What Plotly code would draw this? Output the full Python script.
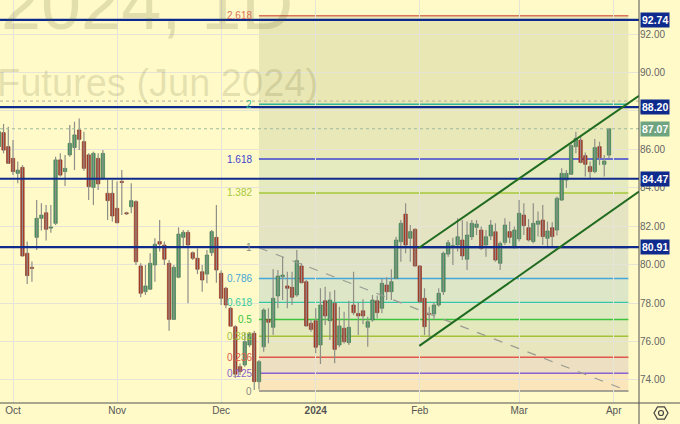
import math
import plotly.graph_objects as go

# ---------------- data ----------------
bar_index = list(range(-3, 127))
opens = [86.14, 86.87, 86.14, 85.53, 84.75, 85.06, 80.59, 79.82, 81.42, 82.41,
         82.70, 81.90, 82.15, 85.45, 84.84, 85.71, 86.09, 87.01, 86.40, 85.71,
         84.02, 85.53, 84.49, 83.71, 83.71, 82.93, 84.32, 82.66, 83.01, 83.28,
         79.93, 78.59, 78.72, 79.98, 81.20, 81.02, 80.07, 77.15, 79.34, 81.42,
         81.68, 80.62, 80.33, 79.63, 79.51, 80.62, 81.42, 79.55, 78.77, 77.73,
         76.77, 74.69, 74.78, 75.82, 76.43, 73.91, 75.73, 77.15, 76.74, 78.37,
         79.37, 78.89, 78.82, 78.42, 79.93, 79.11, 76.95, 77.08, 75.82, 78.12,
         77.08, 77.99, 75.82, 76.69, 75.94, 77.90, 77.46, 77.60, 76.74, 77.12,
         78.12, 77.73, 78.94, 78.59, 79.29, 81.19, 82.63, 81.37, 81.84, 79.93,
         78.25, 77.46, 77.43, 77.90, 78.59, 80.55, 80.93, 81.02, 81.28, 80.28,
         81.45, 81.94, 81.80, 81.02, 81.49, 81.71, 80.07, 81.16, 81.72, 80.88,
         81.34, 82.58, 81.92, 81.20, 82.10, 82.32, 81.37, 81.92, 81.80, 83.36,
         84.40, 84.70, 86.14, 86.48, 85.67, 85.10, 84.84, 86.14, 85.22, 85.70]
highs = [87.10, 87.32, 87.18, 86.49, 85.36, 85.18, 81.20, 80.16, 83.36, 83.19,
         83.10, 83.10, 85.62, 85.79, 85.71, 87.27, 87.44, 87.61, 86.92, 85.79,
         85.88, 85.79, 85.96, 84.44, 84.40, 84.32, 84.92, 82.75, 84.23, 83.35,
         80.07, 79.98, 80.59, 81.37, 82.32, 81.20, 80.24, 79.98, 81.94, 81.80,
         81.80, 80.68, 80.85, 79.98, 80.76, 81.80, 83.10, 79.69, 78.85, 77.81,
         76.85, 74.86, 76.44, 76.50, 76.56, 75.04, 77.73, 77.73, 79.76, 79.72,
         80.41, 79.63, 79.63, 80.76, 80.07, 79.20, 77.12, 77.73, 78.77, 78.85,
         78.59, 78.68, 77.81, 77.55, 78.12, 79.63, 78.02, 78.20, 77.29, 78.42,
         78.40, 79.29, 79.34, 79.76, 81.45, 82.32, 83.19, 82.06, 81.89, 79.98,
         78.77, 77.81, 78.02, 78.77, 80.68, 81.28, 81.40, 82.41, 82.32, 82.24,
         82.32, 82.32, 81.98, 81.80, 82.32, 82.15, 81.20, 82.41, 82.24, 81.98,
         83.36, 83.19, 82.37, 83.19, 82.76, 83.10, 82.24, 82.20, 83.54, 85.01,
         84.92, 86.31, 86.92, 86.66, 85.84, 85.36, 86.54, 86.40, 85.70, 87.09]
lows = [85.90, 85.79, 85.24, 84.66, 84.23, 80.42, 78.99, 79.11, 80.76, 81.77,
        81.25, 81.66, 82.06, 84.58, 84.09, 85.62, 84.92, 85.96, 84.89, 83.36,
        83.10, 83.88, 84.40, 82.32, 82.24, 82.15, 82.58, 82.58, 82.67, 79.98,
        78.30, 78.42, 78.68, 79.11, 80.68, 79.98, 76.56, 77.12, 79.29, 80.94,
        77.99, 80.24, 79.51, 78.59, 79.03, 80.45, 79.06, 77.90, 77.73, 76.77,
        74.10, 74.26, 74.69, 75.70, 73.48, 73.50, 75.47, 75.90, 76.34, 77.73,
        78.16, 77.73, 77.90, 78.33, 79.03, 76.77, 76.51, 75.39, 74.83, 76.86,
        76.08, 74.87, 75.70, 75.90, 75.82, 77.38, 76.34, 76.90, 75.73, 77.03,
        77.20, 77.47, 78.16, 78.16, 79.24, 80.15, 80.59, 80.15, 79.89, 77.99,
        76.34, 76.22, 77.12, 77.81, 78.42, 80.41, 79.98, 80.68, 80.24, 79.72,
        81.28, 81.54, 80.76, 80.41, 81.28, 80.15, 79.72, 81.02, 81.11, 80.85,
        81.20, 81.54, 81.20, 81.11, 81.46, 81.02, 80.85, 80.94, 81.51, 83.31,
        84.00, 84.66, 85.79, 85.27, 84.58, 84.49, 84.75, 85.18, 84.58, 85.53]
closes = [86.92, 85.96, 85.27, 84.84, 84.92, 80.45, 79.43, 79.80, 82.41, 82.58,
          81.84, 81.93, 85.45, 84.66, 85.01, 86.31, 86.75, 86.52, 85.01, 84.06,
          85.79, 84.20, 85.79, 83.33, 82.53, 82.18, 84.27, 82.64, 83.33, 80.15,
          78.51, 78.89, 80.07, 81.06, 81.07, 80.28, 77.15, 79.86, 81.59, 81.68,
          81.02, 80.33, 79.76, 79.20, 80.50, 81.72, 79.72, 78.25, 77.90, 76.80,
          74.30, 74.43, 75.99, 76.39, 73.91, 74.95, 77.64, 77.00, 78.25, 79.41,
          79.46, 78.77, 78.30, 80.21, 79.06, 76.81, 76.63, 75.70, 77.90, 77.33,
          78.16, 75.59, 76.81, 75.99, 76.74, 77.50, 77.33, 77.33, 77.03, 78.16,
          77.50, 79.03, 78.59, 79.11, 81.28, 82.15, 81.02, 81.72, 79.93, 78.07,
          76.77, 77.40, 77.90, 78.51, 80.59, 81.14, 80.98, 81.45, 80.45, 81.54,
          82.15, 82.11, 80.85, 81.45, 82.06, 80.24, 81.11, 82.06, 81.42, 81.80,
          82.67, 82.03, 81.28, 82.15, 82.27, 81.46, 81.75, 81.46, 83.45, 84.75,
          84.75, 86.19, 86.57, 85.32, 85.22, 84.84, 86.09, 85.57, 85.39, 87.07]

month_ticks = [0, 22, 44, 64, 86, 107, 127]
month_labels = ["Oct", "Nov", "Dec", "<b>2024</b>", "Feb", "Mar", "Apr"]
price_ticks = [74, 76, 78, 80, 82, 84, 86, 88, 90, 92]

key_levels = [92.74, 88.20, 84.47, 80.91]
last_price = 87.07
dotted_level = 88.51

fib_low = 73.42
fib_high = 80.88
fib_x0 = 52.0
fib_x1 = 130.1
fib_ratios = [0, 0.125, 0.236, 0.382, 0.5, 0.618, 0.786, 1, 1.382, 1.618, 2, 2.618]
fib_names = ["0", "0.125", "0.236", "0.382", "0.5", "0.618", "0.786", "1", "1.382", "1.618", "2", "2.618"]
fib_colors = ["#8a8a84", "#8a62d2", "#e0574b", "#a2c23a", "#3cc43c", "#35c9a0",
              "#45a6d8", "#8a8a84", "#a6c83a", "#3d45d0", "#2fb59c", "#d9735a"]
fib_band_colors = ["#fbe6bb", "#ecdfc2", "#e8e6bd", "#e3e9bc", "#dee9c2", "#dde6c7",
                   "#e1e3c6", "#e4e4c2", "#e6eabf", "#e8e8b8", "#e9e7b3"]

trend_x = [52.0, 130.1]
trend_y = [80.88, 73.42]
channel_upper_x = [85.7, 132.35]
channel_upper_y = [80.85, 88.79]
channel_lower_x = [85.9, 132.35]
channel_lower_y = [75.77, 83.80]

# ---------------- figure ----------------
BG = "#fffac8"
X_RANGE = [-2.75, 132.35]
Y_RANGE = [72.80, 93.77]
PLOT_W, PLOT_H = 639, 403

fig = go.Figure()

# wicks
wx, wy = [], []
for i, h, l in zip(bar_index, highs, lows):
    wx += [i, i, None]
    wy += [l, h, None]
fig.add_trace(go.Scatter(x=wx, y=wy, mode="lines",
                         line=dict(color="#8f8f88", width=1.2),
                         hoverinfo="skip", showlegend=False))

# bodies
base, height, fill, edge = [], [], [], []
for o, c in zip(opens, closes):
    lo = min(o, c)
    hgt = max(abs(c - o), 0.06)
    base.append(lo)
    height.append(hgt)
    up = c >= o
    fill.append("#4f9a66" if up else "#b13f2e")
    edge.append("#2e6b43" if up else "#7a2618")
fig.add_trace(go.Bar(x=bar_index, y=height, base=base, width=0.72,
                     marker=dict(color=fill, line=dict(color=edge, width=0.6)),
                     hoverinfo="skip", showlegend=False))

shapes = []
fib_values = [fib_low + r * (fib_high - fib_low) for r in fib_ratios]
for k in range(len(fib_values) - 1):
    shapes.append(dict(type="rect", xref="x", yref="y", x0=fib_x0, x1=fib_x1,
                       y0=fib_values[k], y1=fib_values[k + 1],
                       fillcolor=fib_band_colors[k], line=dict(width=0), layer="below"))
for v, col in zip(fib_values, fib_colors):
    shapes.append(dict(type="line", xref="x", yref="y", x0=fib_x0, x1=fib_x1,
                       y0=v, y1=v, line=dict(color=col, width=1.5), layer="below"))
shapes.append(dict(type="line", xref="x", yref="y", x0=trend_x[0], x1=trend_x[1],
                   y0=trend_y[0], y1=trend_y[1],
                   line=dict(color="#9b9b92", width=1.2, dash="dash")))
shapes.append(dict(type="line", xref="paper", yref="y", x0=0, x1=1,
                   y0=dotted_level, y1=dotted_level,
                   line=dict(color="#b0b0a0", width=1, dash="dot")))
shapes.append(dict(type="line", xref="paper", yref="y", x0=0, x1=1,
                   y0=last_price, y1=last_price,
                   line=dict(color="#9dba9d", width=1, dash="dot")))
for v in key_levels:
    shapes.append(dict(type="line", xref="paper", yref="y", x0=0, x1=1, y0=v, y1=v,
                       line=dict(color="#0e2a8c", width=2.2)))
shapes.append(dict(type="line", xref="x", yref="y", x0=channel_upper_x[0], x1=channel_upper_x[1],
                   y0=channel_upper_y[0], y1=channel_upper_y[1],
                   line=dict(color="#1f6b1f", width=2)))
shapes.append(dict(type="line", xref="x", yref="y", x0=channel_lower_x[0], x1=channel_lower_x[1],
                   y0=channel_lower_y[0], y1=channel_lower_y[1],
                   line=dict(color="#1f6b1f", width=2)))
shapes.append(dict(type="line", xref="paper", yref="paper", x0=0, x1=680 / PLOT_W, y0=0, y1=0,
                   line=dict(color="#505050", width=1)))
shapes.append(dict(type="line", xref="paper", yref="paper", x0=1, x1=1, y0=-21 / PLOT_H, y1=1,
                   line=dict(color="#505050", width=1)))
cx, cy, r = 661, 413, 7
pts = []
for ang in [0, 60, 120, 180, 240, 300]:
    px = cx + r * math.cos(math.radians(ang))
    py = cy + r * math.sin(math.radians(ang))
    pts.append((px / PLOT_W, (PLOT_H - py) / PLOT_H))
path = "M " + " L ".join(f"{a:.5f},{b:.5f}" for a, b in pts) + " Z"
shapes.append(dict(type="path", xref="paper", yref="paper", path=path,
                   line=dict(color="#444444", width=1.2)))
shapes.append(dict(type="circle", xref="paper", yref="paper",
                   x0=(cx - 2.5) / PLOT_W, x1=(cx + 2.5) / PLOT_W,
                   y0=(PLOT_H - cy - 2.5) / PLOT_H, y1=(PLOT_H - cy + 2.5) / PLOT_H,
                   line=dict(color="#444444", width=1.2)))

annotations = []
annotations.append(dict(text="2024, 1D", xref="paper", yref="paper",
                        x=295 / PLOT_W, y=(PLOT_H - 46) / PLOT_H, xanchor="right", yanchor="bottom",
                        showarrow=False,
                        font=dict(family="Liberation Sans", size=72, color="rgba(90,90,40,0.17)")))
annotations.append(dict(text="Futures (Jun 2024)", xref="paper", yref="paper",
                        x=320 / PLOT_W, y=(PLOT_H - 106) / PLOT_H, xanchor="right", yanchor="bottom",
                        showarrow=False,
                        font=dict(family="Liberation Sans", size=38, color="rgba(90,90,40,0.17)")))
for v, name, col in zip(fib_values, fib_names, fib_colors):
    annotations.append(dict(text=name, xref="x", yref="y", x=51.0, y=v,
                            xanchor="right", yanchor="middle", showarrow=False,
                            font=dict(family="Liberation Sans", size=10, color=col)))
for v in key_levels:
    annotations.append(dict(text=f"<b>{v:.2f}</b>", xref="paper", yref="y", x=1, y=v,
                            xanchor="left", yanchor="middle", xshift=1, showarrow=False,
                            bgcolor="#0e2a8c", borderpad=1,
                            font=dict(family="Liberation Sans", size=10.5, color="white")))
annotations.append(dict(text=f"<b>{last_price:.2f}</b>", xref="paper", yref="y", x=1, y=last_price,
                        xanchor="left", yanchor="middle", xshift=1, showarrow=False,
                        bgcolor="#6fa480", borderpad=1,
                        font=dict(family="Liberation Sans", size=10.5, color="white")))

fig.update_layout(
    width=680, height=424,
    margin=dict(l=0, r=41, t=0, b=21),
    paper_bgcolor=BG, plot_bgcolor=BG,
    showlegend=False, barmode="overlay",
    shapes=shapes, annotations=annotations,
    font=dict(family="Liberation Sans", size=10, color="#555555"),
)
fig.update_xaxes(range=X_RANGE, tickvals=month_ticks, ticktext=month_labels,
                 showgrid=True, gridcolor="#e6e4d6", gridwidth=1, zeroline=False,
                 showline=False, ticks="", tickfont=dict(size=10, color="#555555"),
                 fixedrange=True)
fig.update_yaxes(range=Y_RANGE, side="right", tickvals=price_ticks,
                 ticktext=[f"{p:.2f}" for p in price_ticks],
                 showgrid=True, gridcolor="#e6e4d6", gridwidth=1, zeroline=False,
                 showline=False, ticks="", tickfont=dict(size=10, color="#666666"),
                 fixedrange=True)

fig.write_html("out.html", config={"displayModeBar": False},
               post_script="document.body.style.margin='0';document.body.style.background='#fffac8';")
